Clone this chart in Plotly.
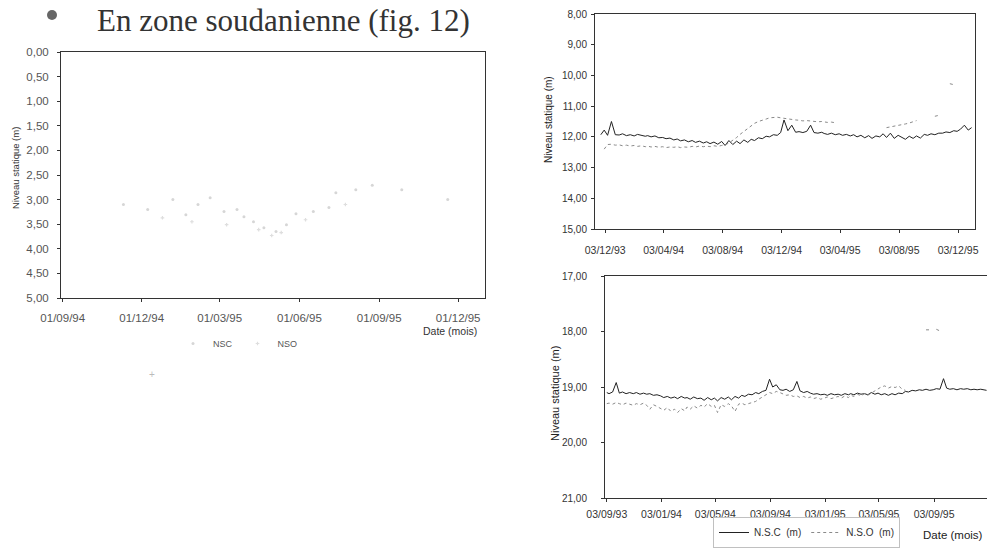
import plotly.graph_objects as go

W, H = 987, 549
def px(x): return x / W
def py(y): return 1 - y / H

# ---------------- Chart 1 (left, zone soudanienne) ----------------
c1_nsc_dates = ["1994-11-10", "1994-12-08", "1995-01-06", "1995-01-21", "1995-02-04", "1995-02-18",
                "1995-03-06", "1995-03-21", "1995-03-29", "1995-04-09", "1995-04-21", "1995-05-05",
                "1995-05-17", "1995-05-28", "1995-06-17", "1995-07-05", "1995-07-13", "1995-08-05",
                "1995-08-24", "1995-09-27", "1995-11-19"]
c1_nsc = [3.10, 3.20, 3.00, 3.31, 3.10, 2.96, 3.24, 3.20, 3.35, 3.45, 3.57, 3.65,
          3.51, 3.29, 3.24, 3.16, 2.86, 2.80, 2.71, 2.80, 3.00]
c1_nso_dates = ["1994-12-25", "1995-01-28", "1995-03-09", "1995-04-15", "1995-04-30",
                "1995-05-11", "1995-06-08", "1995-07-24"]
c1_nso = [3.37, 3.45, 3.51, 3.61, 3.73, 3.67, 3.41, 3.10]
c1_xticks = ["1994-09-01", "1994-12-01", "1995-03-01", "1995-06-01", "1995-09-01", "1995-12-01"]
c1_xlabels = ["01/09/94", "01/12/94", "01/03/95", "01/06/95", "01/09/95", "01/12/95"]
c1_yticks = [0, 0.5, 1, 1.5, 2, 2.5, 3, 3.5, 4, 4.5, 5]
c1_ylabels = ["0,00", "0,50", "1,00", "1,50", "2,00", "2,50", "3,00", "3,50", "4,00", "4,50", "5,00"]

# ---------------- Chart 2 (top right) ----------------
c2_dates = ["1993-11-24",
    "1993-12-01", "1993-12-08", "1993-12-16", "1993-12-24",
    "1994-01-01", "1994-01-08", "1994-01-16", "1994-01-24",
    "1994-02-01", "1994-02-08", "1994-02-16", "1994-02-24",
    "1994-03-01", "1994-03-08", "1994-03-16", "1994-03-24",
    "1994-04-01", "1994-04-08", "1994-04-16", "1994-04-24",
    "1994-05-01", "1994-05-08", "1994-05-16", "1994-05-24",
    "1994-06-01", "1994-06-08", "1994-06-16", "1994-06-24",
    "1994-07-01", "1994-07-08", "1994-07-16", "1994-07-24",
    "1994-08-01", "1994-08-08", "1994-08-16", "1994-08-24",
    "1994-09-01", "1994-09-08", "1994-09-16", "1994-09-24",
    "1994-10-01", "1994-10-08", "1994-10-16", "1994-10-24",
    "1994-11-01", "1994-11-08", "1994-11-16", "1994-11-24",
    "1994-12-01", "1994-12-08", "1994-12-16", "1994-12-24",
    "1995-01-01", "1995-01-08", "1995-01-16", "1995-01-24",
    "1995-02-01", "1995-02-08", "1995-02-16", "1995-02-24",
    "1995-03-01", "1995-03-08", "1995-03-16", "1995-03-24",
    "1995-04-01", "1995-04-08", "1995-04-16", "1995-04-24",
    "1995-05-01", "1995-05-08", "1995-05-16", "1995-05-24",
    "1995-06-01", "1995-06-08", "1995-06-16", "1995-06-24",
    "1995-07-01", "1995-07-08", "1995-07-16", "1995-07-24",
    "1995-08-01", "1995-08-08", "1995-08-16", "1995-08-24",
    "1995-09-01", "1995-09-08", "1995-09-16", "1995-09-24",
    "1995-10-01", "1995-10-08", "1995-10-16", "1995-10-24",
    "1995-11-01", "1995-11-08", "1995-11-16", "1995-11-24",
    "1995-12-01", "1995-12-08", "1995-12-16", "1995-12-24",
    "1995-12-31"]
c2_nsc = [11.93,
    11.78, 11.95, 11.50, 11.93,
    11.94, 11.90, 11.96, 11.93,
    11.97, 11.92, 11.95, 11.98,
    11.96, 12.00, 11.97, 12.03,
    12.02, 12.06, 12.04, 12.10,
    12.07, 12.13, 12.10, 12.16,
    12.12, 12.18, 12.14, 12.20,
    12.16, 12.22, 12.17, 12.24,
    12.15, 12.28, 12.12, 12.25,
    12.14, 12.22, 12.10, 12.18,
    12.08, 12.12, 12.03, 12.06,
    11.98, 12.00, 11.93, 11.95,
    11.86, 11.45, 11.80, 11.62,
    11.85, 11.83, 11.86, 11.82,
    11.62, 11.86, 11.88, 11.85,
    11.89, 11.92, 11.88, 11.93,
    11.90, 11.95, 11.92, 11.97,
    11.93, 12.00, 11.95, 12.03,
    11.96, 12.05, 11.97, 12.00,
    11.90, 12.02, 11.88, 12.05,
    11.95, 12.02, 12.08, 11.98,
    12.05, 11.97, 12.04, 11.92,
    11.95, 11.90, 11.93, 11.88,
    11.88, 11.84, 11.86, 11.80,
    11.82, 11.75, 11.62, 11.78,
    11.70]
c2_nso = [None,
    12.40, 12.25, 12.24, 12.27,
    12.26, 12.29, 12.27, 12.30,
    12.28, 12.31, 12.29, 12.32,
    12.30, 12.33, 12.31, 12.34,
    12.32, 12.35, 12.33, 12.34,
    12.32, 12.35, 12.33, 12.34,
    12.31, 12.33, 12.30, 12.32,
    12.30, 12.32, 12.29, 12.31,
    12.28, 12.26, 12.20, 12.12,
    12.02, 11.92, 11.82, 11.72,
    11.64, 11.56, 11.50, 11.47,
    11.42, 11.38, 11.36, 11.36,
    11.38, 11.40, 11.42, 11.43,
    11.45, 11.46, 11.48, 11.47,
    11.49, 11.50, 11.51, 11.50,
    11.52, 11.53, 11.52, 11.54,
    None, None, None, None,
    None, None, None, None,
    None, None, None, None,
    None, 11.70, 11.68, 11.66,
    11.64, 11.62, 11.58, 11.55,
    11.50, 11.47, None, None,
    None, None, 11.33, 11.30,
    None, None, 10.27, 10.30,
    None, None, None, None,
    None]
c2_xticks = ["1993-12-03", "1994-04-03", "1994-08-03", "1994-12-03", "1995-04-03", "1995-08-03", "1995-12-03"]
c2_xlabels = ["03/12/93", "03/04/94", "03/08/94", "03/12/94", "03/04/95", "03/08/95", "03/12/95"]
c2_yticks = [8, 9, 10, 11, 12, 13, 14, 15]
c2_ylabels = ["8,00", "9,00", "10,00", "11,00", "12,00", "13,00", "14,00", "15,00"]

# ---------------- Chart 3 (bottom right) ----------------
c3_dates = [
    "1993-09-03", "1993-09-08", "1993-09-16", "1993-09-24",
    "1993-10-01", "1993-10-08", "1993-10-16", "1993-10-24",
    "1993-11-01", "1993-11-08", "1993-11-16", "1993-11-24",
    "1993-12-01", "1993-12-08", "1993-12-16", "1993-12-24",
    "1994-01-01", "1994-01-08", "1994-01-16", "1994-01-24",
    "1994-02-01", "1994-02-08", "1994-02-16", "1994-02-24",
    "1994-03-01", "1994-03-08", "1994-03-16", "1994-03-24",
    "1994-04-01", "1994-04-08", "1994-04-16", "1994-04-24",
    "1994-05-01", "1994-05-08", "1994-05-16", "1994-05-24",
    "1994-06-01", "1994-06-08", "1994-06-16", "1994-06-24",
    "1994-07-01", "1994-07-08", "1994-07-16", "1994-07-24",
    "1994-08-01", "1994-08-08", "1994-08-16", "1994-08-24",
    "1994-09-01", "1994-09-08", "1994-09-16", "1994-09-24",
    "1994-10-01", "1994-10-08", "1994-10-16", "1994-10-24",
    "1994-11-01", "1994-11-08", "1994-11-16", "1994-11-24",
    "1994-12-01", "1994-12-08", "1994-12-16", "1994-12-24",
    "1995-01-01", "1995-01-08", "1995-01-16", "1995-01-24",
    "1995-02-01", "1995-02-08", "1995-02-16", "1995-02-24",
    "1995-03-01", "1995-03-08", "1995-03-16", "1995-03-24",
    "1995-04-01", "1995-04-08", "1995-04-16", "1995-04-24",
    "1995-05-01", "1995-05-08", "1995-05-16", "1995-05-24",
    "1995-06-01", "1995-06-08", "1995-06-16", "1995-06-24",
    "1995-07-01", "1995-07-08", "1995-07-16", "1995-07-24",
    "1995-08-01", "1995-08-08", "1995-08-16", "1995-08-24",
    "1995-09-01", "1995-09-08", "1995-09-16", "1995-09-24",
    "1995-10-01", "1995-10-08", "1995-10-16", "1995-10-24",
    "1995-11-01", "1995-11-08", "1995-11-16", "1995-11-24",
    "1995-12-01", "1995-12-08", "1995-12-16", "1995-12-24",
    "1995-12-29"]
c3_nsc = [
    19.10, 19.12, 19.09, 18.92,
    19.11, 19.09, 19.12, 19.10,
    19.12, 19.10, 19.13, 19.11,
    19.13, 19.12, 19.15, 19.14,
    19.16, 19.19, 19.17, 19.20,
    19.18, 19.21, 19.17, 19.20,
    19.19, 19.22, 19.18, 19.21,
    19.20, 19.24, 19.19, 19.23,
    19.20, 19.25, 19.19, 19.22,
    19.18, 19.23, 19.17, 19.20,
    19.15, 19.17, 19.13, 19.14,
    19.10, 19.12, 19.08, 19.06,
    18.86, 19.00, 18.96, 19.05,
    19.06, 19.04, 19.08, 19.05,
    18.90, 19.07, 19.10, 19.08,
    19.11, 19.13, 19.12, 19.14,
    19.13, 19.15, 19.12, 19.14,
    19.13, 19.15, 19.12, 19.14,
    19.12, 19.14, 19.11, 19.13,
    19.12, 19.14, 19.10, 19.13,
    19.11, 19.14, 19.12, 19.15,
    19.12, 19.14, 19.11, 19.12,
    19.08, 19.09, 19.06, 19.07,
    19.05, 19.06, 19.04, 19.06,
    19.05, 19.03, 19.04, 18.85,
    19.02, 19.04, 19.03, 19.05,
    19.03, 19.04, 19.03, 19.05,
    19.04, 19.05, 19.04, 19.06,
    19.06]
c3_nso = [
    19.30, 19.29, 19.31, 19.28,
    19.30, 19.32, 19.29, 19.31,
    19.33, 19.30, 19.32, 19.29,
    19.33, 19.40, 19.32, 19.35,
    19.38, 19.42, 19.37, 19.44,
    19.40, 19.46, 19.39, 19.43,
    19.36, 19.40, 19.34, 19.38,
    19.33, 19.36, 19.30, 19.35,
    19.33, 19.46, 19.32, 19.35,
    19.30, 19.34, 19.44, 19.31,
    19.29, 19.32, 19.30, 19.28,
    19.26, 19.22, 19.18, 19.14,
    19.10, 19.12, 19.08, 19.10,
    19.12, 19.15, 19.14, 19.17,
    19.16, 19.19, 19.17, 19.20,
    19.18, 19.21, 19.19, 19.22,
    19.20, 19.18, 19.21, 19.19,
    19.17, 19.20, 19.16, 19.19,
    19.15, 19.17, 19.13, 19.16,
    19.12, 19.15, 19.11, 19.08,
    19.03, 19.00, 18.98, 19.02,
    18.99, 19.01, 18.98, 19.04,
    19.06, None, None, None,
    None, None, 17.97, 17.97,
    None, 17.96, 17.99, None,
    None, None, None, None,
    None, None, None, None,
    None, None, None, None,
    None]
c3_xticks = ["1993-09-03", "1994-01-03", "1994-05-03", "1994-09-03", "1995-01-03", "1995-05-03", "1995-09-03"]
c3_xlabels = ["03/09/93", "03/01/94", "03/05/94", "03/09/94", "03/01/95", "03/05/95", "03/09/95"]
c3_yticks = [17, 18, 19, 20, 21]
c3_ylabels = ["17,00", "18,00", "19,00", "20,00", "21,00"]

FONT = "Liberation Sans, Arial, sans-serif"
fig = go.Figure()

# chart 1 traces (very faint scan)
fig.add_trace(go.Scatter(x=c1_nsc_dates, y=c1_nsc, mode="markers", name="NSC",
                         marker=dict(size=3, color="#d6d6d6"), xaxis="x", yaxis="y", legend="legend2"))
fig.add_trace(go.Scatter(x=c1_nso_dates, y=c1_nso, mode="markers", name="NSO",
                         marker=dict(size=3, color="#dedede", symbol="cross"), xaxis="x", yaxis="y", legend="legend2"))
# chart 2 traces
fig.add_trace(go.Scatter(x=c2_dates, y=c2_nsc, mode="lines", name="N.S.C  (m)", showlegend=False,
                         line=dict(color="#222222", width=1), xaxis="x2", yaxis="y2"))
fig.add_trace(go.Scatter(x=c2_dates, y=c2_nso, mode="lines", name="N.S.O  (m)", showlegend=False,
                         line=dict(color="#8a8a8a", width=1, dash="dot"), xaxis="x2", yaxis="y2"))
# chart 3 traces
fig.add_trace(go.Scatter(x=c3_dates, y=c3_nsc, mode="lines", name="N.S.C  (m)",
                         line=dict(color="#222222", width=1), xaxis="x3", yaxis="y3"))
fig.add_trace(go.Scatter(x=c3_dates, y=c3_nso, mode="lines", name="N.S.O  (m)",
                         line=dict(color="#8a8a8a", width=1, dash="dot"), xaxis="x3", yaxis="y3"))

def xax(dom, rng, tv, tt, anchor, size, color, standoff):
    return dict(domain=dom, range=rng, type="date", tickvals=tv, ticktext=tt, anchor=anchor,
                showline=True, mirror=True, linecolor="#333", linewidth=1, ticks="outside",
                ticklen=3, tickcolor="#333", showgrid=False, zeroline=False, automargin=False,
                tickfont=dict(family=FONT, size=size, color=color), ticklabelstandoff=standoff)

def yax(dom, rng, tv, tt, anchor, size, color, standoff):
    return dict(domain=dom, range=rng, tickvals=tv, ticktext=tt, anchor=anchor,
                showline=True, mirror=True, linecolor="#333", linewidth=1, ticks="outside",
                ticklen=3, tickcolor="#333", showgrid=False, zeroline=False, automargin=False,
                tickfont=dict(family=FONT, size=size, color=color), ticklabelstandoff=standoff)

fig.update_layout(
    width=W, height=H, margin=dict(l=0, r=0, t=0, b=0, autoexpand=False),
    paper_bgcolor="white", plot_bgcolor="white",
    font=dict(family=FONT, color="#333"),
    xaxis=xax([px(61), px(485)], ["1994-08-30", "1996-01-01"], c1_xticks, c1_xlabels, "y", 11.5, "#555", 6),
    yaxis=yax([py(298), py(52)], [5, 0], c1_yticks, c1_ylabels, "x", 11.5, "#555", 6),
    xaxis2=xax([px(595), px(975)], ["1993-11-12", "1996-01-07"], c2_xticks, c2_xlabels, "y2", 10.5, "#333", 8),
    yaxis2=yax([py(229), py(14)], [15, 8], c2_yticks, c2_ylabels, "x2", 10, "#333", 2),
    xaxis3=xax([px(605), 1.0], ["1993-08-30", "1995-12-30"], c3_xticks, c3_xlabels, "y3", 10.5, "#333", 3),
    yaxis3=yax([py(498), py(276)], [21, 17], c3_yticks, c3_ylabels, "x3", 10, "#333", 12),
    legend=dict(x=px(713), y=py(548), xanchor="left", yanchor="bottom", orientation="h",
                bordercolor="#c0c0c0", borderwidth=1, bgcolor="white",
                font=dict(family=FONT, size=10, color="#333"), itemwidth=30,
                tracegroupgap=0),
    legend2=dict(x=px(173), y=py(329), xanchor="left", yanchor="top", orientation="h",
                 borderwidth=0, bgcolor="rgba(0,0,0,0)",
                 font=dict(family=FONT, size=9, color="#555"), itemwidth=30),
    showlegend=True,
)

def note(text, x, y, size, color="#333", angle=0, family=FONT, xanchor="center"):
    return dict(text=text, x=px(x), y=py(y), xref="paper", yref="paper",
                xanchor=xanchor, yanchor="middle", textangle=angle, showarrow=False,
                font=dict(family=family, size=size, color=color))

ann = [
    note("En zone soudanienne (fig. 12)", 95, 20, 31, "#333", 0,
         "Liberation Serif, Times New Roman, serif", "left"),
    note("Niveau statique (m)", 15, 168, 9.5, "#333", -90),
    note("Niveau statique (m)", 548, 120, 10, "#222", -90),
    note("Niveau statique (m)", 555, 394, 11, "#222", -90),
    note("Date (mois)", 450, 331, 10.5, "#333"),
    note("Date (mois)", 953, 535, 11.5, "#222"),
    note("+", 152, 374, 10, "#bbbbbb"),
]
fig.update_layout(annotations=ann)

fig.add_shape(type="circle", xref="paper", yref="paper",
              x0=px(47), x1=px(57), y0=py(20), y1=py(10),
              fillcolor="#666", line=dict(width=0))

fig.write_html("out.html")
